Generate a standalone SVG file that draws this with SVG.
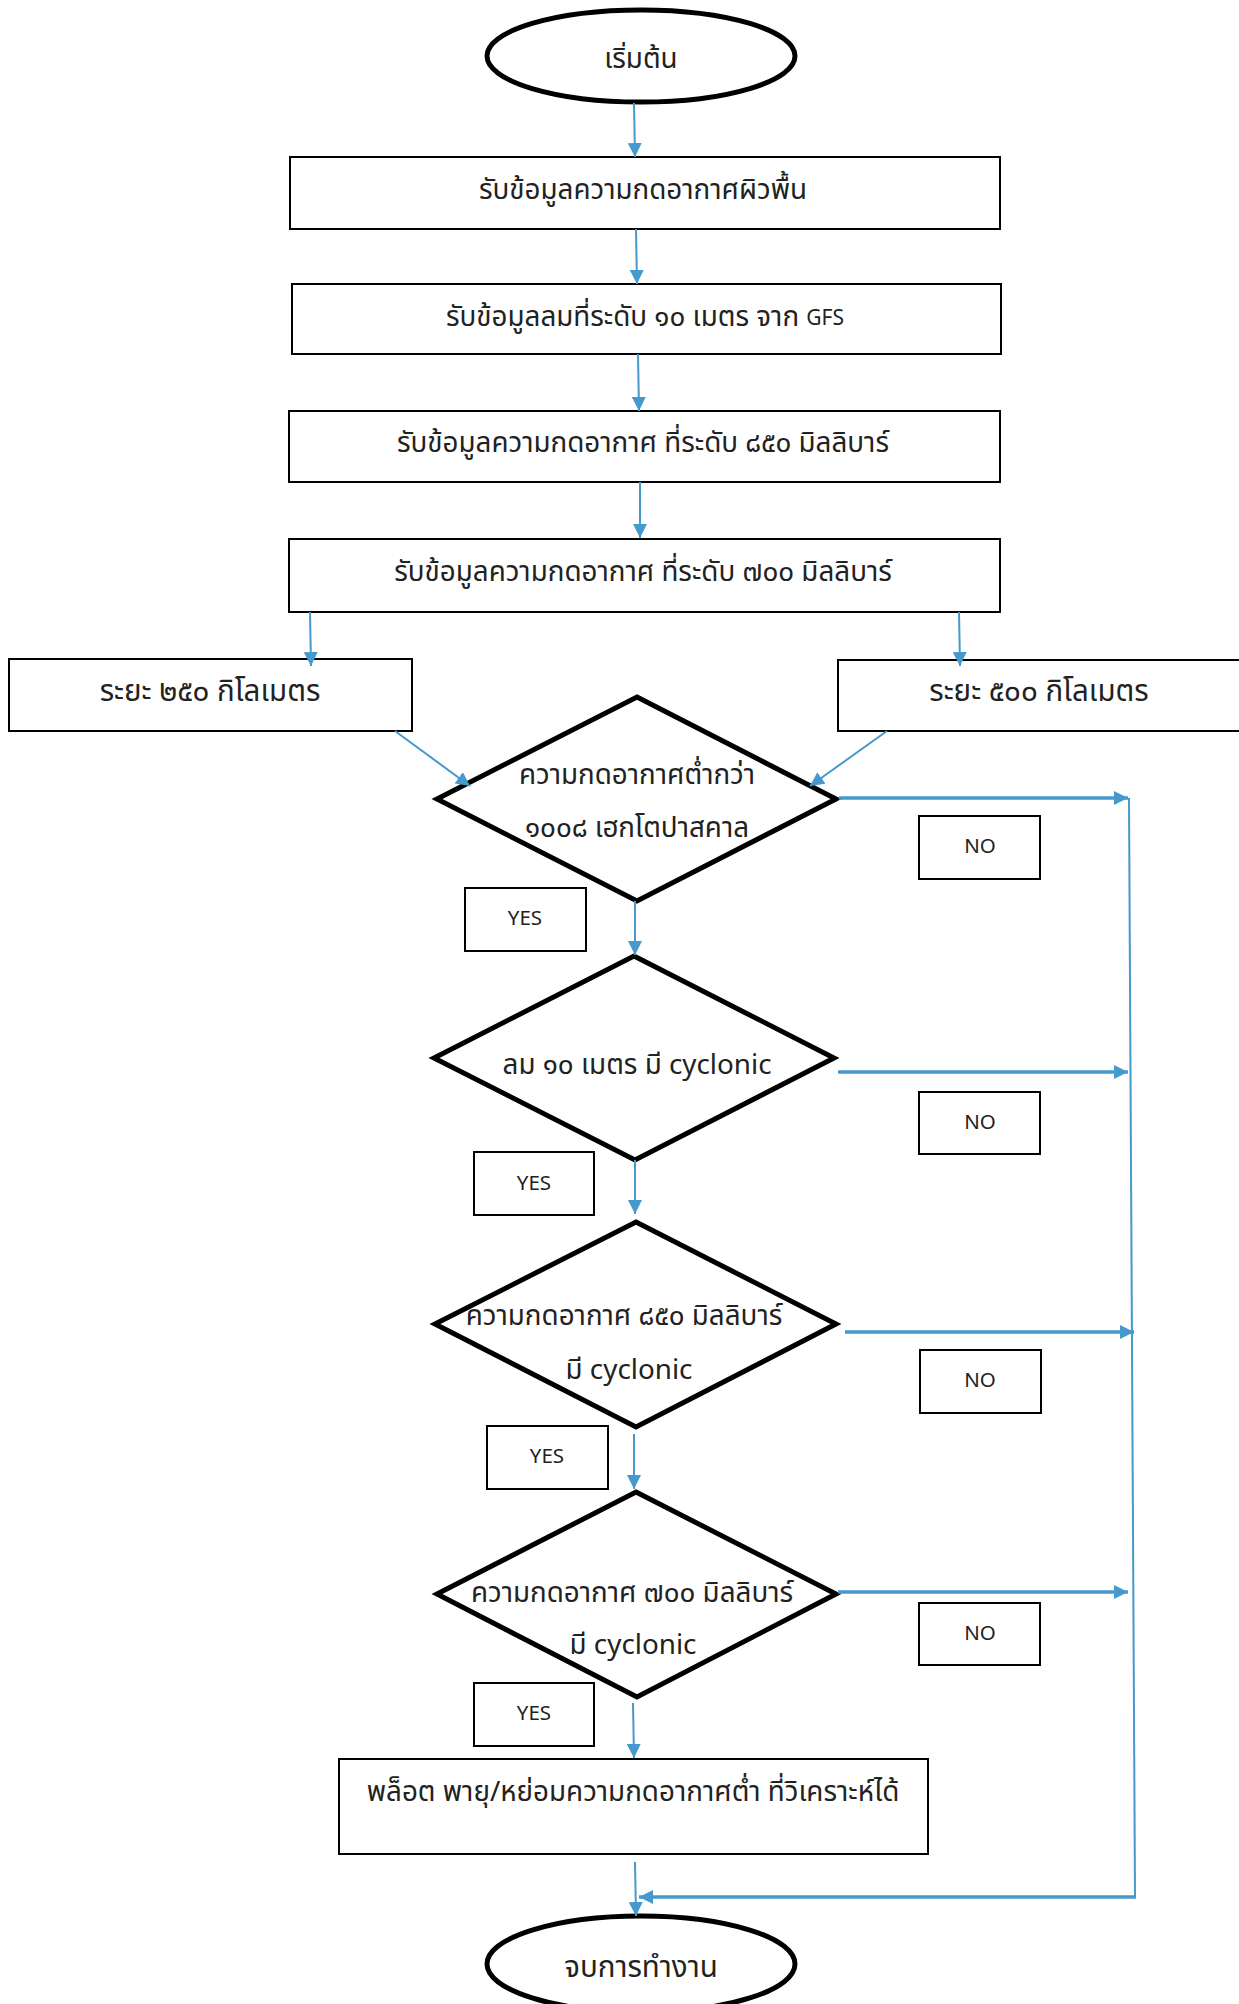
<svg xmlns="http://www.w3.org/2000/svg" width="1239" height="2004" viewBox="0 0 1239 2004">
<defs>
<style>
.t{font-family:'Noto Sans Thai','Noto Sans','DejaVu Sans',sans-serif;font-size:27.8px;fill:#222;text-anchor:middle;dominant-baseline:central}
.l{font-size:29.5px}
.s{font-size:20.5px}
.g{font-size:21px}
.box{fill:#fff;stroke:#000;stroke-width:2}
.term{fill:#fff;stroke:#000;stroke-width:5}
.dia{fill:#fff;stroke:#000;stroke-width:5;stroke-linejoin:miter}
.c{fill:none;stroke:#4599cc;stroke-width:2}
.c3{fill:none;stroke:#4599cc;stroke-width:3.5}
</style>
<marker id="a" viewBox="0 0 14 14" refX="14" refY="7" markerWidth="14" markerHeight="14" markerUnits="userSpaceOnUse" orient="auto">
<path d="M0,0 L14,7 L0,14 Z" fill="#4599cc"/>
</marker>
</defs>
<g id="start"><ellipse class="term" cx="641" cy="56" rx="154" ry="46"/><text class="t" x="641" y="60">เริ่มต้น</text></g>
<g id="b1"><rect class="box" x="290" y="157" width="710" height="72"/><text class="t" x="643" y="191">รับข้อมูลความกดอากาศผิวพื้น</text></g>
<g id="b2"><rect class="box" x="292" y="284" width="709" height="70"/><text class="t" x="645" y="318">รับข้อมูลลมที่ระดับ ๑๐ เมตร จาก <tspan class="g">GFS</tspan></text></g>
<g id="b3"><rect class="box" x="289" y="411" width="711" height="71"/><text class="t" x="643" y="444">รับข้อมูลความกดอากาศ ที่ระดับ ๘๕๐ มิลลิบาร์</text></g>
<g id="b4"><rect class="box" x="289" y="539" width="711" height="73"/><text class="t" x="643" y="573">รับข้อมูลความกดอากาศ ที่ระดับ ๗๐๐ มิลลิบาร์</text></g>
<g id="r250"><rect class="box" x="9" y="659" width="403" height="72"/><text class="t l" x="210" y="692">ระยะ ๒๕๐ กิโลเมตร</text></g>
<g id="r500"><rect class="box" x="838" y="660" width="410" height="71"/><text class="t l" x="1039" y="692">ระยะ ๕๐๐ กิโลเมตร</text></g>
<g id="d1"><polygon class="dia" points="637,697 836,799 637,901 437,799"/><text class="t" x="637" y="776">ความกดอากาศต่ำกว่า</text><text class="t" x="637" y="829">๑๐๐๘ เฮกโตปาสคาล</text></g>
<g id="d2"><polygon class="dia" points="634,956 834,1058 635,1160 434,1058"/><text class="t" x="637" y="1066">ลม ๑๐ เมตร มี cyclonic</text></g>
<g id="d3"><polygon class="dia" points="636,1222 836,1324 636,1427 435,1324"/><text class="t" x="624" y="1317">ความกดอากาศ ๘๕๐ มิลลิบาร์</text><text class="t" x="629" y="1371">มี cyclonic</text></g>
<g id="d4"><polygon class="dia" points="636,1492 836,1594 637,1697 437,1594"/><text class="t" x="632" y="1594">ความกดอากาศ ๗๐๐ มิลลิบาร์</text><text class="t" x="633" y="1646">มี cyclonic</text></g>
<g id="plot"><rect class="box" x="339" y="1759" width="589" height="95"/><text class="t" x="633" y="1793">พล็อต พายุ/หย่อมความกดอากาศต่ำ ที่วิเคราะห์ได้</text></g>
<g id="end"><ellipse class="term" cx="641" cy="1964" rx="154" ry="48"/><text class="t l" x="641" y="1968">จบการทำงาน</text></g>
<g id="no1"><rect class="box" x="919" y="816" width="121" height="63"/><text class="t s" x="980" y="846">NO</text></g>
<g id="no2"><rect class="box" x="919" y="1092" width="121" height="62"/><text class="t s" x="980" y="1122">NO</text></g>
<g id="no3"><rect class="box" x="920" y="1350" width="121" height="63"/><text class="t s" x="980" y="1380">NO</text></g>
<g id="no4"><rect class="box" x="919" y="1603" width="121" height="62"/><text class="t s" x="980" y="1633">NO</text></g>
<g id="yes1"><rect class="box" x="465" y="888" width="121" height="63"/><text class="t s" x="525" y="918">YES</text></g>
<g id="yes2"><rect class="box" x="474" y="1152" width="120" height="63"/><text class="t s" x="534" y="1183">YES</text></g>
<g id="yes3"><rect class="box" x="487" y="1426" width="121" height="63"/><text class="t s" x="547" y="1456">YES</text></g>
<g id="yes4"><rect class="box" x="474" y="1683" width="120" height="63"/><text class="t s" x="534" y="1713">YES</text></g>
<g id="connectors">
<line class="c" x1="634" y1="103" x2="635" y2="157" marker-end="url(#a)"/>
<line class="c" x1="636" y1="229" x2="637" y2="284" marker-end="url(#a)"/>
<line class="c" x1="638" y1="354" x2="639" y2="411" marker-end="url(#a)"/>
<line class="c" x1="640" y1="482" x2="640" y2="538" marker-end="url(#a)"/>
<line class="c" x1="310" y1="612" x2="311" y2="666" marker-end="url(#a)"/>
<line class="c" x1="959" y1="612" x2="960" y2="666" marker-end="url(#a)"/>
<line class="c" x1="395" y1="731" x2="470" y2="786" marker-end="url(#a)"/>
<line class="c" x1="887" y1="731" x2="810" y2="786" marker-end="url(#a)"/>
<line class="c3" x1="839" y1="798" x2="1128" y2="798" marker-end="url(#a)"/>
<line class="c3" x1="838" y1="1072" x2="1128" y2="1072" marker-end="url(#a)"/>
<line class="c3" x1="845" y1="1332" x2="1134" y2="1332" marker-end="url(#a)"/>
<line class="c3" x1="838" y1="1592" x2="1128" y2="1592" marker-end="url(#a)"/>
<line class="c" x1="1129" y1="798" x2="1135" y2="1898"/>
<polyline class="c3" points="1136,1897 639,1897" marker-end="url(#a)"/>
<line class="c" x1="635" y1="901" x2="635" y2="955" marker-end="url(#a)"/>
<line class="c" x1="635" y1="1160" x2="635" y2="1214" marker-end="url(#a)"/>
<line class="c" x1="634" y1="1434" x2="634" y2="1489" marker-end="url(#a)"/>
<line class="c" x1="633" y1="1703" x2="634" y2="1758" marker-end="url(#a)"/>
<line class="c" x1="635" y1="1862" x2="636" y2="1916" marker-end="url(#a)"/>
</g>
</svg>
